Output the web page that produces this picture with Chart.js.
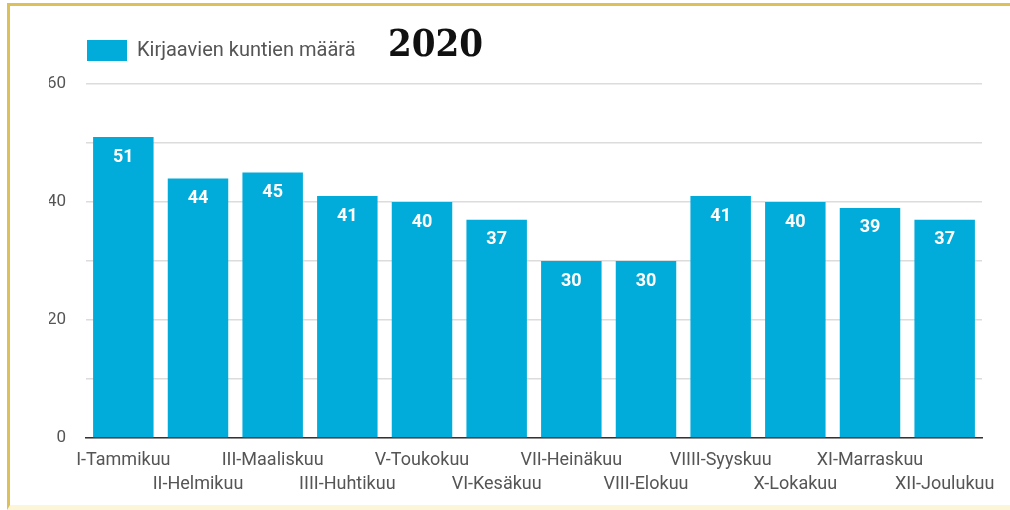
<!DOCTYPE html>
<html>
<head>
<meta charset="utf-8">
<script src="https://cdn.jsdelivr.net/npm/chart.js@4.4.0/dist/chart.umd.min.js"></script>
<style>
  body { margin: 0; background: #fff; }
  #frame {
    position: absolute; left: 7px; top: 3px; width: 1003px; height: 507px;
    border-top: 3px solid #dcc15a; border-left: 3px solid #dcc15a;
    border-bottom: 5px solid #fcf5d8; box-sizing: border-box;
  }
  #wrap { position: absolute; left: 0; top: 0; width: 1010px; height: 510px; }
</style>
</head>
<body>
<div id="frame"></div>
<div id="wrap"><canvas id="chart"></canvas></div>
<script>
// data
const months = ['I-Tammikuu', 'II-Helmikuu', 'III-Maaliskuu', 'IIII-Huhtikuu', 'V-Toukokuu', 'VI-Kesäkuu',
  'VII-Heinäkuu', 'VIII-Elokuu', 'VIIII-Syyskuu', 'X-Lokakuu', 'XI-Marraskuu', 'XII-Joulukuu'];
const counts = [51, 44, 45, 41, 40, 37, 30, 30, 41, 40, 39, 37];
const yLabels = [0, 20, 40, 60];
const seriesName = 'Kirjaavien kuntien määrä';
const yearTitle = '2020';

const barColor = '#02acda';

// legenda: korkeus kiinni, jotta kaavioalue alkaa oikeasta kohdasta
const legendHeight = {
  id: 'legendHeight',
  beforeInit(chart) {
    const fit = chart.legend.fit;
    chart.legend.fit = function () {
      fit.bind(chart.legend)();
      this.height = 82;
    };
  }
};

// vuosiluku legendan viereen
const yearText = {
  id: 'yearText',
  afterDraw(chart) {
    const ctx = chart.ctx;
    ctx.save();
    ctx.font = 'bold 38px "DejaVu Serif Condensed", "DejaVu Serif", serif';
    ctx.fillStyle = '#111';
    ctx.textBaseline = 'alphabetic';
    ctx.textAlign = 'left';
    ctx.fillText(yearTitle, 388, 56);
    ctx.restore();
  }
};

// arvot palkkien sisään
const barValues = {
  id: 'barValues',
  afterDatasetsDraw(chart) {
    const ctx = chart.ctx;
    const meta = chart.getDatasetMeta(0);
    ctx.save();
    ctx.font = 'bold 18px Roboto';
    ctx.fillStyle = '#fff';
    ctx.textAlign = 'center';
    ctx.textBaseline = 'middle';
    meta.data.forEach((bar, i) => {
      ctx.fillText(String(counts[i]), bar.x, bar.y + 20);
    });
    ctx.restore();
  }
};

new Chart(document.getElementById('chart'), {
  type: 'bar',
  data: {
    labels: months,
    datasets: [{
      label: seriesName,
      data: counts,
      backgroundColor: barColor,
      borderWidth: 0,
      categoryPercentage: 1,
      barPercentage: 0.81
    }]
  },
  options: {
    responsive: true,
    maintainAspectRatio: false,
    animation: false,
    layout: { padding: { left: 49, top: 2, right: 28, bottom: 13 } },
    plugins: {
      tooltip: { enabled: false },
      legend: {
        position: 'top',
        align: 'start',
        labels: {
          boxWidth: 40,
          boxHeight: 21,
          padding: 38,
          color: '#555',
          font: { family: 'Roboto', size: 20 }
        }
      }
    },
    scales: {
      x: {
        grid: { display: false, drawTicks: false },
        border: { color: '#333', width: 1.5 },
        ticks: {
          autoSkip: false,
          maxRotation: 0,
          padding: 11,
          color: '#555',
          font: { family: 'Roboto', size: 18, lineHeight: 1.333 },
          callback: (v, i) => (i % 2 ? ['', months[i]] : months[i])
        },
        afterFit: s => { s.paddingLeft = 0; s.paddingRight = 0; s.height = 59; }
      },
      y: {
        min: 0,
        max: 60,
        grid: { color: '#dcdcdc', lineWidth: 1.5, drawTicks: false },
        border: { display: false },
        ticks: {
          stepSize: 10,
          padding: 20,
          color: '#555',
          font: { family: 'Roboto', size: 17 },
          callback: v => (yLabels.includes(v) ? v : '')
        },
        afterFit: s => { s.width = 37; }
      }
    }
  },
  plugins: [legendHeight, yearText, barValues]
});
</script>
</body>
</html>
